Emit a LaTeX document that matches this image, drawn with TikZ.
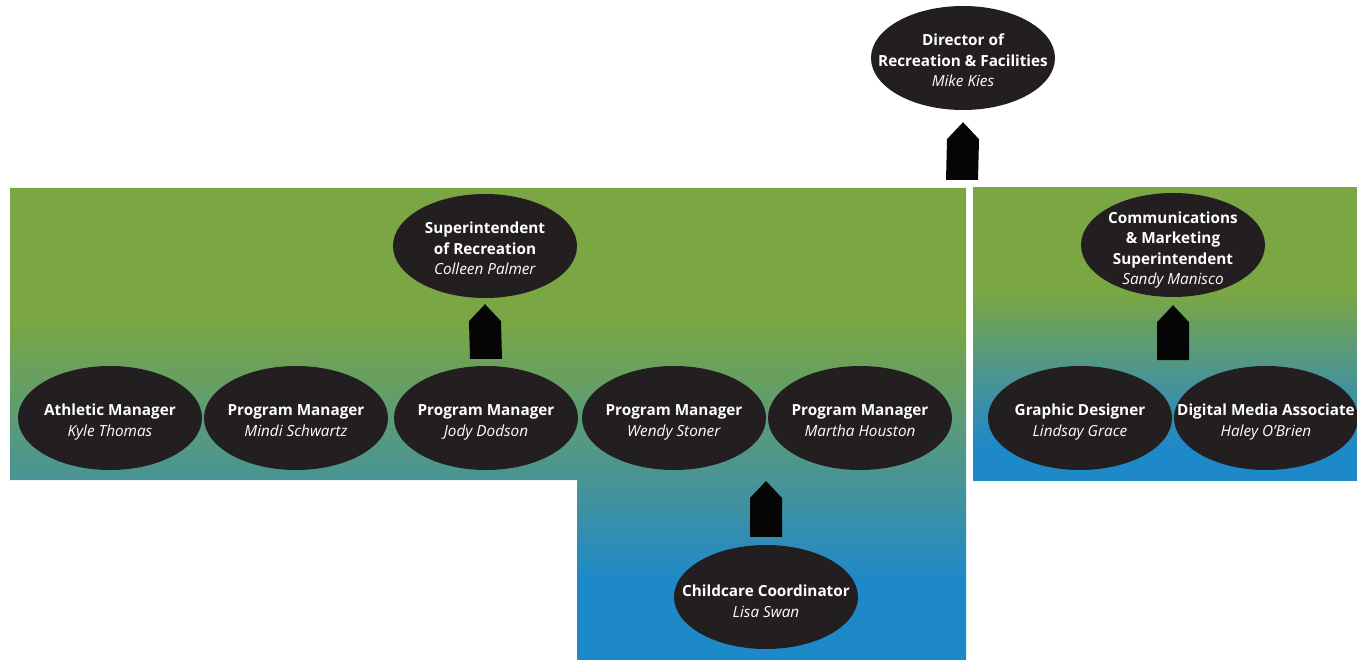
\documentclass[tikz,border=0pt]{standalone}
\usepackage{fontspec}
\setmainfont{Open Sans}
\usetikzlibrary{shapes.geometric,calc}
\definecolor{gr}{RGB}{122,166,67}
\definecolor{tl}{RGB}{72,148,150}
\definecolor{bl}{RGB}{30,137,201}
\definecolor{ink}{RGB}{35,31,32}
\definecolor{arr}{RGB}{5,5,5}
\pgfdeclareverticalshading{leftgrad}{100bp}{color(0bp)=(bl); color(33.5bp)=(bl); color(44bp)=(tl); color(61bp)=(gr); color(100bp)=(gr)}
\pgfdeclareverticalshading{rightgrad}{100bp}{color(0bp)=(bl); color(30.6bp)=(bl); color(42bp)=(tl); color(57bp)=(gr); color(100bp)=(gr)}
\tikzset{
  person/.style={ellipse, fill=ink, minimum width=184pt, minimum height=104pt, inner sep=0pt},
  txt/.style={text=white, inner sep=0pt, align=center, font=\fontsize{15.3}{20.5}\selectfont},
  house/.style={fill=arr, draw=none, to path={
    ($(\tikztostart)+(-16,0)$) -- ($(\tikztotarget)+(-16,17)$) -- (\tikztotarget)
    -- ($(\tikztotarget)+(16,17)$) -- ($(\tikztostart)+(16,0)$) -- cycle}}
}
\newcommand{\role}[2]{\strut{\bfseries #1}\\\textit{#2}\strut}
\begin{document}
\begin{tikzpicture}[x=1pt,y=-1pt]
\useasboundingbox (0,0) rectangle (1357,660);
% backgrounds
\shade[shading=leftgrad] (10,188) -- (966,188) -- (966,660) -- (577,660) -- (577,480) -- (10,480) -- cycle;
\shade[shading=rightgrad] (973,188) rectangle (1357,480);
% ellipses
\node[person] (dir) at (963,58) {};
\node[person] (sup) at (485,246) {};
\node[person] (comms) at (1173,245) {};
\node[person] (athl) at (110,418) {};
\node[person] (mindi) at (296,418) {};
\node[person] (jody) at (486,418) {};
\node[person] (wendy) at (674,418) {};
\node[person] (martha) at (860,418) {};
\node[person] (child) at (766,597) {};
\node[person] (graphic) at (1080,418) {};
\node[person] (digital) at (1266,418) {};
% texts
\node[txt] (dirT) at ($(dir)+(0,4)$) {\strut{\bfseries Director of}\\{\bfseries Recreation \& Facilities}\\\textit{Mike Kies}\strut};
\node[txt] (supT) at ($(sup)+(0,4)$) {\strut{\bfseries Superintendent}\\{\bfseries of Recreation}\\\textit{Colleen Palmer}\strut};
\node[txt] (commsT) at ($(comms)+(0,5)$) {\strut{\bfseries Communications}\\{\bfseries \& Marketing}\\{\bfseries Superintendent}\\\textit{Sandy Manisco}\strut};
\node[txt] (athlT) at ($(athl)+(0,4)$) {\role{Athletic Manager}{Kyle Thomas}};
\node[txt] (mindiT) at ($(mindi)+(0,4)$) {\role{Program Manager}{Mindi Schwartz}};
\node[txt] (jodyT) at ($(jody)+(0,4)$) {\role{Program Manager}{Jody Dodson}};
\node[txt] (wendyT) at ($(wendy)+(0,4)$) {\role{Program Manager}{Wendy Stoner}};
\node[txt] (marthaT) at ($(martha)+(0,4)$) {\role{Program Manager}{Martha Houston}};
\node[txt] (childT) at ($(child)+(0,6)$) {\role{Childcare Coordinator}{Lisa Swan}};
\node[txt] (graphicT) at ($(graphic)+(0,4)$) {\role{Graphic Designer}{Lindsay Grace}};
\node[txt] (digitalT) at ($(digital)+(0,4)$) {\role{Digital Media Associate}{Haley O’Brien}};
% free ends
\coordinate (dirfoot) at (962,180);
\coordinate (cctop) at (766,481);
\coordinate (cmfoot) at (1173,360);
% connectors
\path[house] (dirfoot) to ($(dir.south)+(0,12)$);
\path[house] ($(jody.north)+(0,-7)$) to ($(sup.south)+(0,6)$);
\path[house] ($(child.north)+(0,-8)$) to (cctop);
\path[house] (cmfoot) to ($(comms.south)+(0,8)$);
\end{tikzpicture}
\end{document}
